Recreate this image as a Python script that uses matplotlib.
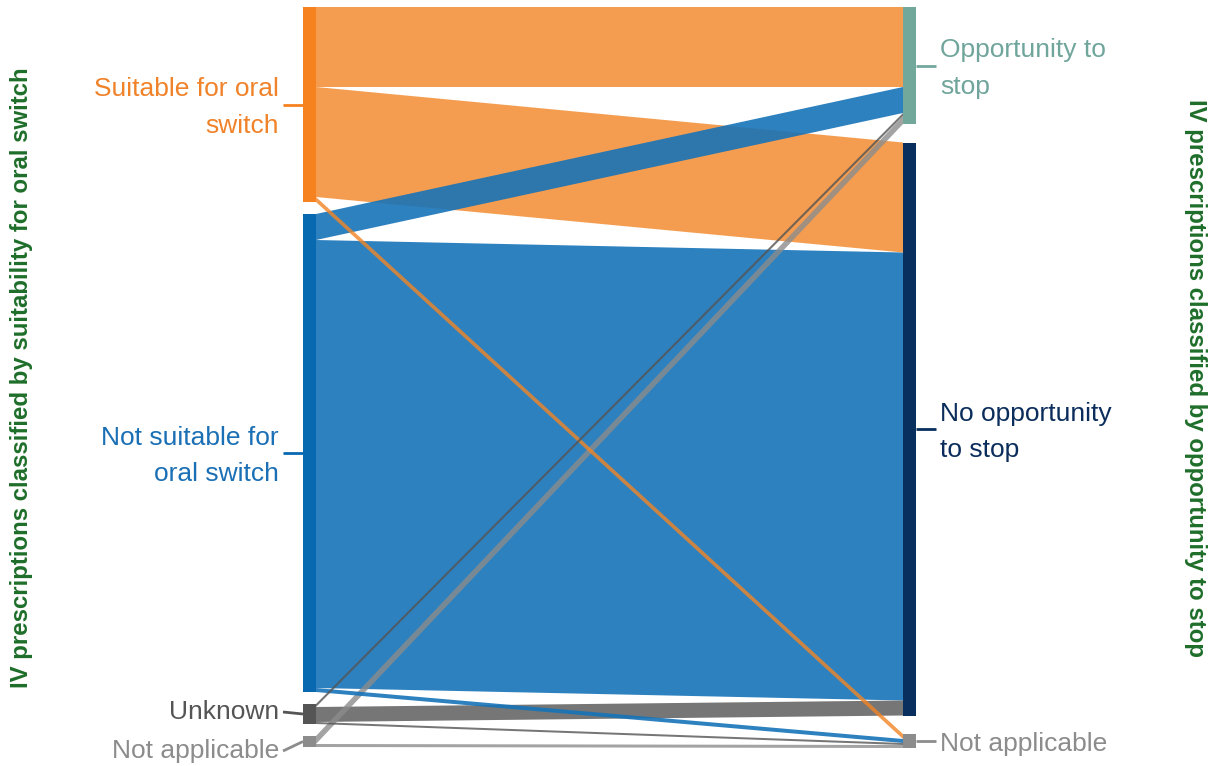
import matplotlib
matplotlib.use("Agg")
import matplotlib.pyplot as plt
from matplotlib.patches import Polygon, Rectangle

plt.rcParams["font.family"] = ["Liberation Sans", "DejaVu Sans"]

# left (source) and right (target) categories
sources = ["Suitable for oral\nswitch", "Not suitable for\noral switch", "Unknown", "Not applicable"]
targets = ["Opportunity to\nstop", "No opportunity\nto stop", "Not applicable"]

# flows[source][target] (relative widths)
flows = [
    [80, 110, 5],    # Suitable
    [26, 448, 4],    # Not suitable
    [3, 15, 2],      # Unknown
    [8, 0, 3],       # Not applicable
]

src_colors = ["#f5821f", "#0868b0", "#555555", "#8c8c8c"]
link_colors = [(0.95, 0.52, 0.14, 0.8), (0.09, 0.45, 0.72, 0.9), (0.33, 0.33, 0.33, 0.8), (0.55, 0.55, 0.55, 0.8)]
src_text = ["#f0822a", "#1a6fb5", "#555555", "#8c8c8c"]
tgt_colors = ["#72a79c", "#082f5e", "#8c8c8c"]
tgt_text = ["#6fa59b", "#0b2d5c", "#8c8c8c"]
title_color = "#1e6e2a"

W, H = 1218, 766
fig = plt.figure(figsize=(W / 100, H / 100), dpi=100)
ax = fig.add_axes([0, 0, 1, 1])
ax.set_xlim(0, W)
ax.set_ylim(H, 0)
ax.axis("off")

top = 7
scale = 1.0
left_x, right_x, node_w = 303, 903, 13
left_pad, right_pad = 12, 18.5

src_tot = [sum(r) for r in flows]
tgt_tot = [sum(flows[i][j] for i in range(len(sources))) for j in range(len(targets))]

def stack(totals, pad):
    pos, y = [], top
    for t in totals:
        pos.append(y)
        y += t * scale + pad
    return pos

src_y = stack(src_tot, left_pad)
tgt_y = stack(tgt_tot, right_pad)

# links
links = []
tgt_off = list(tgt_y)
for i in range(len(sources)):
    s_off = src_y[i]
    for j in range(len(targets)):
        v = flows[i][j] * scale
        if v > 0:
            links.append((v, i, s_off, tgt_off[j]))
        s_off += v
        tgt_off[j] += v

x0, x1 = left_x + node_w, right_x
for v, i, ys, yt in sorted(links, key=lambda l: -l[0]):
    poly = Polygon([(x0, ys), (x1, yt), (x1, yt + v), (x0, ys + v)],
                   closed=True, facecolor=link_colors[i], edgecolor="none")
    ax.add_patch(poly)

# nodes + labels
label_fs = 19
spacing = 1.67
src_label_y = [None, None, 712, 751]
for i, name in enumerate(sources):
    h = src_tot[i] * scale
    ax.add_patch(Rectangle((left_x, src_y[i]), node_w, h, facecolor=src_colors[i], edgecolor="none", zorder=3))
    cy = src_y[i] + h / 2
    ly = src_label_y[i] if src_label_y[i] is not None else cy
    ax.plot([283, left_x], [ly, cy], color=src_colors[i], lw=2, solid_capstyle="butt")
    ty = ly + 3 if "\n" in name else ly
    ax.text(279, ty, name, ha="right", va="center", color=src_text[i], fontsize=label_fs, linespacing=spacing)

for j, name in enumerate(targets):
    h = tgt_tot[j] * scale
    ax.add_patch(Rectangle((right_x, tgt_y[j]), node_w, h, facecolor=tgt_colors[j], edgecolor="none", zorder=3))
    cy = tgt_y[j] + h / 2
    ax.plot([right_x + node_w, 936], [cy, cy], color=tgt_colors[j], lw=2, solid_capstyle="butt")
    ax.text(940, cy + 3, name, ha="left", va="center", color=tgt_text[j], fontsize=label_fs, linespacing=spacing)

ax.text(22, 378, "IV prescriptions classified by suitability for oral switch", rotation=90,
        ha="center", va="center", color=title_color, fontsize=17.3, fontweight="bold")
ax.text(1195, 378, "IV prescriptions classified by opportunity to stop", rotation=-90,
        ha="center", va="center", color=title_color, fontsize=17.3, fontweight="bold")

fig.savefig("out.png", dpi=100)
plt.close(fig)
